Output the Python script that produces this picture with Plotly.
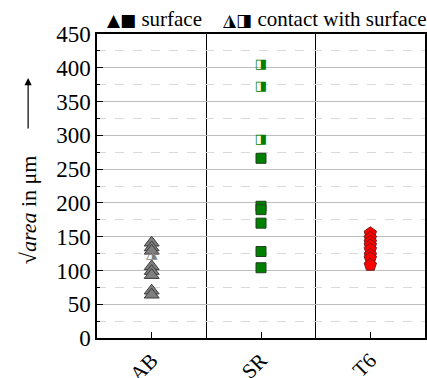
import plotly.graph_objects as go

categories = ["AB", "SR", "T6"]
x_pos = [0, 1, 2]

ab_surface = [141, 134, 129, 106, 99, 93, 70, 64]
ab_contact = [124]
sr_surface = [266, 195, 190, 170, 128, 104]
sr_contact = [404, 372, 293]
t6_surface = [155, 148, 142, 137, 131, 123, 118, 108]

SERIF = "Liberation Serif"

fig = go.Figure()

def xs(i, n):
    return [x_pos[i]] * n

fig.add_trace(go.Scatter(x=xs(0, len(ab_surface)), y=ab_surface, mode="markers",
                         marker=dict(symbol="triangle-up", size=13, color="#7f7f7f",
                                     line=dict(color="#3c3c3c", width=1))))
fig.add_trace(go.Scatter(x=xs(0, len(ab_contact)), y=ab_contact, mode="text",
                         text=["◮"] * len(ab_contact), textposition="middle center",
                         textfont=dict(family="DejaVu Sans", size=15, color="#7f7f7f")))
fig.add_trace(go.Scatter(x=xs(1, len(sr_surface)), y=sr_surface, mode="markers",
                         marker=dict(symbol="square", size=10, color="#008000",
                                     line=dict(color="#204020", width=1))))
fig.add_trace(go.Scatter(x=xs(1, len(sr_contact)), y=sr_contact, mode="text",
                         text=["◨"] * len(sr_contact), textposition="middle center",
                         textfont=dict(family="DejaVu Sans", size=13, color="#008000")))
fig.add_trace(go.Scatter(x=xs(2, len(t6_surface)), y=t6_surface, mode="markers",
                         marker=dict(symbol="pentagon", size=13, color="#ff0000",
                                     line=dict(color="#702020", width=1))))

# legend line above the plot
fig.add_annotation(xref="paper", yref="paper", x=0.517, y=1.0, yanchor="bottom",
                   xanchor="center", showarrow=False, yshift=1,
                   text="<span style='font-family:DejaVu Sans;font-size:17px'>▲■</span> surface    "
                        "<span style='font-family:DejaVu Sans;font-size:17px'>◮◨</span> contact with surface",
                   font=dict(family=SERIF, size=21, color="black"))

# y-axis title and its arrow
fig.add_annotation(xref="paper", yref="paper", x=-0.21, y=0.421, xanchor="center",
                   yanchor="middle", showarrow=False, textangle=-90,
                   text="√<i>area</i> in μm", font=dict(family=SERIF, size=22, color="black"))
fig.add_annotation(xref="paper", yref="paper", x=-0.21, y=0.855, ax=0, ay=52,
                   text="", showarrow=True, arrowhead=2, arrowsize=1.2, arrowwidth=1.2,
                   arrowcolor="black")

fig.update_layout(
    width=427, height=378,
    margin=dict(l=97, r=2, t=34, b=40),
    paper_bgcolor="white", plot_bgcolor="white",
    showlegend=False,
    font=dict(family=SERIF, size=22, color="black"),
)
fig.update_xaxes(
    range=[-0.5, 2.5], tickmode="array", tickvals=x_pos, ticktext=categories,
    tickangle=-45, ticks="inside", ticklen=6, tickcolor="black", automargin=False,
    tickfont=dict(family=SERIF, size=21),
    showline=True, linecolor="black", linewidth=1.5, mirror=True,
    showgrid=False, zeroline=False,
    minor=dict(tick0=-0.5, dtick=1, ticks="inside", ticklen=6, tickcolor="black",
               showgrid=True, gridcolor="black", gridwidth=1),
)
fig.update_yaxes(
    range=[0, 450], dtick=50, ticks="inside", ticklen=6, tickcolor="black", automargin=False,
    tickfont=dict(family=SERIF, size=23),
    showline=True, linecolor="black", linewidth=1.5, mirror=True,
    showgrid=True, gridcolor="#bdbdbd", gridwidth=1, zeroline=False,
    minor=dict(dtick=25, ticks="inside", ticklen=3, tickcolor="black",
               showgrid=True, gridcolor="#d9d9d9", griddash="dash", gridwidth=1),
)

fig.write_html("out.html")
